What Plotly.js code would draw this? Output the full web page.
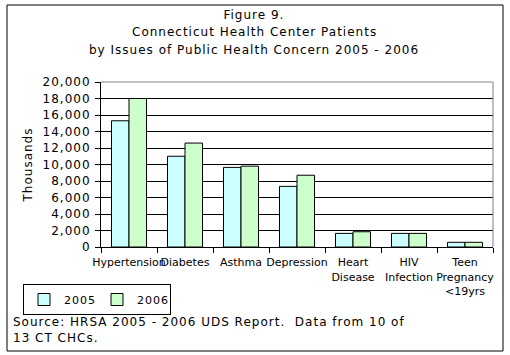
<!DOCTYPE html>
<html><head><meta charset="utf-8">
<script src="https://cdn.plot.ly/plotly-3.0.1.min.js"></script>
<style>
html,body{margin:0;padding:0;background:#fff}
#chart .ytick text, #chart .annotation-text, #chart .legendtext{letter-spacing:1px}
</style>
</head><body>
<div id="chart" style="width:510px;height:355px"></div>
<script>
var categories = ["Hypertension","Diabetes","Asthma","Depression","Heart Disease","HIV Infection","Teen Pregnancy <19yrs"];
var tickLabels = ["Hypertension","Diabetes","Asthma","Depression","Heart<br>Disease","HIV<br>Infection","Teen<br>Pregnancy<br>&lt;19yrs"];
var values2005 = [15300, 11000, 9650, 7350, 1650, 1650, 570];
var values2006 = [18000, 12600, 9800, 8700, 1850, 1650, 570];
var yTicks = [0,2000,4000,6000,8000,10000,12000,14000,16000,18000,20000];
var titleLines = ["Figure 9.", "Connecticut Health Center Patients", "by Issues of Public Health Concern 2005 - 2006"];

var FONT = "DejaVu Sans, Verdana, sans-serif";
var L = 101, R = 493, T = 82, B = 247, W = 510, H = 355;
function px(x){ return (x - L) / (R - L); }
function py(y){ return (B - y) / (B - T); }

var traces = [
  {type:"bar", name:"2005", x:categories, y:values2005,
   marker:{color:"#CCFFFF", line:{color:"#000", width:1}}},
  {type:"bar", name:"2006", x:categories, y:values2006,
   marker:{color:"#CCFFCC", line:{color:"#000", width:1}}}
];

var titleY = [15, 32, 50];
var annotations = titleLines.map(function(t, i){
  return {text:t, xref:"paper", yref:"paper", x:px(254), y:py(titleY[i]),
          xanchor:"center", yanchor:"middle", showarrow:false, font:{family:FONT, size:12}};
});
annotations.push(
  {text:"Thousands", textangle:-90, xref:"paper", yref:"paper", x:px(28), y:py(165),
   xanchor:"center", yanchor:"middle", showarrow:false, font:{family:FONT, size:12}},
  {text:"Source: HRSA 2005 - 2006 UDS Report.  Data from 10 of<br>13 CT CHCs.",
   xref:"paper", yref:"paper", x:px(11), y:py(313), xanchor:"left", yanchor:"top",
   align:"left", showarrow:false, font:{family:FONT, size:12}}
);

var layout = {
  width: W, height: H,
  margin:{l:L, r:W-R, t:T, b:H-B, pad:0},
  paper_bgcolor:"#fff", plot_bgcolor:"#fff",
  font:{family:FONT, size:11, color:"#000"},
  barmode:"group", bargap:0.375, bargroupgap:0,
  showlegend:true,
  legend:{orientation:"h", x:px(23), y:py(284), xanchor:"left", yanchor:"top",
          bordercolor:"#000", borderwidth:1, font:{family:FONT, size:11},
          itemwidth:30, tracegroupgap:0, traceorder:"normal"},
  xaxis:{type:"category", tickmode:"array", tickvals:categories, ticktext:tickLabels,
         tickangle:0, tickson:"boundaries", ticks:"outside", ticklen:5, tickcolor:"#000",
         ticklabelstandoff:5,
         showline:true, linecolor:"#000", linewidth:1, showgrid:false,
         tickfont:{family:FONT, size:11}, automargin:false, fixedrange:true},
  yaxis:{range:[0,20000], tickmode:"array", tickvals:yTicks, tickformat:",d",
         ticks:"outside", ticklen:5, tickcolor:"#000", ticklabelstandoff:2,
         showline:true, linecolor:"#000", linewidth:1,
         showgrid:true, gridcolor:"#000", gridwidth:1, zeroline:false,
         tickfont:{family:FONT, size:12}, automargin:false, fixedrange:true},
  annotations: annotations,
  shapes:[
    {type:"rect", xref:"paper", yref:"paper", x0:px(7), x1:px(503), y0:py(351), y1:py(5),
     line:{color:"#000", width:1}, layer:"below"},
    {type:"line", xref:"paper", yref:"paper", x0:0, x1:1, y0:1, y1:1, line:{color:"#808080", width:1}},
    {type:"line", xref:"paper", yref:"paper", x0:1, x1:1, y0:0, y1:1, line:{color:"#808080", width:1}}
  ]
};

Plotly.newPlot("chart", traces, layout, {displayModeBar:false, staticPlot:true});
</script>
</body></html>
